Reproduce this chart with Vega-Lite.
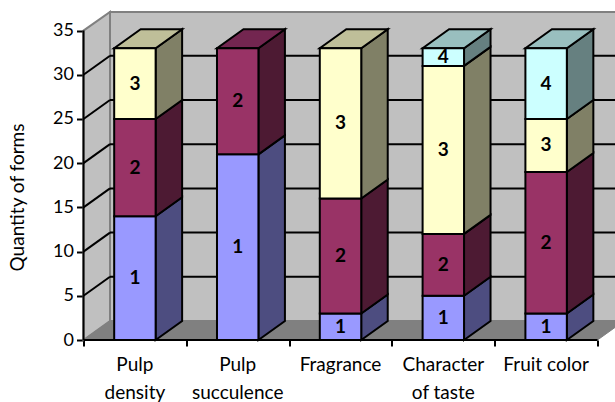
{
"$schema":"https://vega.github.io/schema/vega-lite/v6.json",
"width":531.5,"height":328,"autosize":"none",
"padding":{"left":83.5,"top":12,"right":0,"bottom":62},
"background":"white",
"config":{"view":{"stroke":null},"font":"Lato"},
"datasets":{
"segments":[
{"form":"Pulp density","pos":0.5,"series":1,"from":0,"to":14},
{"form":"Pulp density","pos":0.5,"series":2,"from":14,"to":25},
{"form":"Pulp density","pos":0.5,"series":3,"from":25,"to":33},
{"form":"Pulp succulence","pos":1.5,"series":1,"from":0,"to":21},
{"form":"Pulp succulence","pos":1.5,"series":2,"from":21,"to":33},
{"form":"Fragrance","pos":2.5,"series":1,"from":0,"to":3},
{"form":"Fragrance","pos":2.5,"series":2,"from":3,"to":16},
{"form":"Fragrance","pos":2.5,"series":3,"from":16,"to":33},
{"form":"Character of taste","pos":3.5,"series":1,"from":0,"to":5},
{"form":"Character of taste","pos":3.5,"series":2,"from":5,"to":12},
{"form":"Character of taste","pos":3.5,"series":3,"from":12,"to":31},
{"form":"Character of taste","pos":3.5,"series":4,"from":31,"to":33},
{"form":"Fruit color","pos":4.5,"series":1,"from":0,"to":3},
{"form":"Fruit color","pos":4.5,"series":2,"from":3,"to":19},
{"form":"Fruit color","pos":4.5,"series":3,"from":19,"to":25},
{"form":"Fruit color","pos":4.5,"series":4,"from":25,"to":33}
],
"grid":[{"v":5,"back":7.15},{"v":10,"back":12.15},{"v":15,"back":17.15},{"v":20,"back":22.15},{"v":25,"back":27.15},{"v":30,"back":32.15}],
"names":[
{"pos":0.5,"name":"Pulp\ndensity"},
{"pos":1.5,"name":"Pulp\nsucculence"},
{"pos":2.5,"name":"Fragrance"},
{"pos":3.5,"name":"Character\nof taste"},
{"pos":4.5,"name":"Fruit color"}
]
},
"resolve":{"scale":{"fill":"independent"}},
"layer":[
{
"description":"left side wall of the 3D box, carries the axes",
"data":{"values":[{"x":0,"lo":0,"hi":35},{"x":0.2578,"lo":2.15,"hi":37.1}]},
"mark":{"type":"area","orient":"vertical","fill":"#c0c0c0","stroke":"#808080","strokeWidth":2},
"encoding":{
"x":{"field":"x","type":"quantitative","scale":{"domain":[0,5.17],"nice":false},"title":null,
"axis":{"values":[0,1,2,3,4,5],"labels":false,"domain":false,"grid":false,"tickSize":6,"tickWidth":2,"tickColor":"black"}},
"y":{"field":"lo","type":"quantitative","stack":null,"scale":{"domain":[0,37.1],"nice":false},"title":"Quantity of forms",
"axis":{"values":[0,5,10,15,20,25,30,35],"domain":false,"grid":false,"tickSize":7,"tickWidth":2,"tickColor":"black","labelFontSize":18,"labelColor":"black","labelPadding":3,"titleFontSize":19,"titleFontWeight":"normal","titleColor":"black","titleX":-56,"titleY":185}},
"y2":{"field":"hi"}
}
},
{
"description":"back wall",
"data":{"values":[{"x":0.2578,"lo":2.15,"hi":37.1},{"x":5.2578,"lo":2.15,"hi":37.1}]},
"mark":{"type":"area","orient":"vertical","fill":"#c0c0c0","stroke":"#808080","strokeWidth":2},
"encoding":{
"x":{"field":"x","type":"quantitative","scale":{"domain":[0,5.17],"nice":false}},
"y":{"field":"lo","type":"quantitative","stack":null,"scale":{"domain":[0,37.1],"nice":false}},
"y2":{"field":"hi"}
}
},
{
"description":"floor",
"data":{"values":[{"x":0,"lo":0,"hi":0},{"x":0.2578,"lo":0,"hi":2.15},{"x":5,"lo":0,"hi":2.15},{"x":5.2578,"lo":2.15,"hi":2.15}]},
"mark":{"type":"area","orient":"vertical","fill":"#808080","stroke":"#808080","strokeWidth":1},
"encoding":{
"x":{"field":"x","type":"quantitative","scale":{"domain":[0,5.17],"nice":false}},
"y":{"field":"lo","type":"quantitative","stack":null,"scale":{"domain":[0,37.1],"nice":false}},
"y2":{"field":"hi"}
}
},
{
"description":"gridlines on the back wall",
"data":{"name":"grid"},
"mark":{"type":"rule","color":"black","strokeWidth":2},
"encoding":{
"x":{"datum":0.2578,"type":"quantitative","scale":{"domain":[0,5.17],"nice":false}},
"x2":{"datum":5.2578},
"y":{"field":"back","type":"quantitative","scale":{"domain":[0,37.1],"nice":false}}
}
},
{
"description":"gridlines running across the side wall",
"data":{"name":"grid"},
"mark":{"type":"rule","color":"black","strokeWidth":2},
"encoding":{
"x":{"datum":0,"type":"quantitative","scale":{"domain":[0,5.17],"nice":false}},
"x2":{"datum":0.2578},
"y":{"field":"v","type":"quantitative","scale":{"domain":[0,37.1],"nice":false}},
"y2":{"field":"back"}
}
},
{
"description":"value axis line",
"data":{"values":[{"lo":0,"hi":35}]},
"mark":{"type":"rule","color":"black","strokeWidth":2},
"encoding":{
"x":{"datum":0,"type":"quantitative","scale":{"domain":[0,5.17],"nice":false}},
"y":{"field":"lo","type":"quantitative","scale":{"domain":[0,37.1],"nice":false}},
"y2":{"field":"hi"}
}
},
{
"description":"right-hand faces of the stacked columns",
"data":{"name":"segments"},
"transform":[
{"calculate":"[0,1]","as":"k"},{"flatten":["k"]},
{"calculate":"datum.pos+0.2015+datum.k*0.2578","as":"sx"},
{"calculate":"datum.from+datum.k*2.15","as":"sy"},
{"calculate":"datum.to+datum.k*2.15","as":"sy2"}
],
"mark":{"type":"area","orient":"vertical","stroke":"black","strokeWidth":2,"strokeJoin":"miter"},
"encoding":{
"x":{"field":"sx","type":"quantitative","scale":{"domain":[0,5.17],"nice":false}},
"y":{"field":"sy","type":"quantitative","stack":null,"scale":{"domain":[0,37.1],"nice":false}},
"y2":{"field":"sy2"},
"detail":{"field":"form"},
"fill":{"field":"series","type":"nominal","legend":null,"scale":{"domain":[1,2,3,4],"range":["#4d4d80","#4d1a33","#808066","#668080"]}}
}
},
{
"description":"top faces of the stacked columns",
"data":{"name":"segments"},
"transform":[
{"filter":"datum.to==33"},
{"calculate":"[0,1,2,3]","as":"k"},{"flatten":["k"]},
{"calculate":"datum.pos-0.2015+[0,0.2578,0.403,0.6608][datum.k]","as":"tx"},
{"calculate":"datum.to+[0,0,0,2.15][datum.k]","as":"ty"},
{"calculate":"datum.to+[0,2.15,2.15,2.15][datum.k]","as":"ty2"}
],
"mark":{"type":"area","orient":"vertical","stroke":"black","strokeWidth":2,"strokeJoin":"miter"},
"encoding":{
"x":{"field":"tx","type":"quantitative","scale":{"domain":[0,5.17],"nice":false}},
"y":{"field":"ty","type":"quantitative","stack":null,"scale":{"domain":[0,37.1],"nice":false}},
"y2":{"field":"ty2"},
"detail":{"field":"form"},
"fill":{"field":"series","type":"nominal","legend":null,"scale":{"domain":[1,2,3,4],"range":["#73738f","#732650","#bfbf99","#99bfbf"]}}
}
},
{
"description":"front faces of the stacked columns",
"data":{"name":"segments"},
"transform":[
{"calculate":"datum.pos-0.2015","as":"left"},
{"calculate":"datum.pos+0.2015","as":"right"}
],
"mark":{"type":"rect","stroke":"black","strokeWidth":2},
"encoding":{
"x":{"field":"left","type":"quantitative","scale":{"domain":[0,5.17],"nice":false}},
"x2":{"field":"right"},
"y":{"field":"from","type":"quantitative","scale":{"domain":[0,37.1],"nice":false}},
"y2":{"field":"to"},
"fill":{"field":"series","type":"nominal","legend":null,"scale":{"domain":[1,2,3,4],"range":["#9999ff","#993366","#ffffcc","#ccffff"]}}
}
},
{
"description":"category axis line",
"data":{"values":[{"lo":0,"hi":5}]},
"mark":{"type":"rule","color":"black","strokeWidth":2},
"encoding":{
"x":{"field":"lo","type":"quantitative","scale":{"domain":[0,5.17],"nice":false}},
"x2":{"field":"hi"},
"y":{"datum":0,"type":"quantitative","scale":{"domain":[0,37.1],"nice":false}}
}
},
{
"description":"series number printed on each segment",
"data":{"name":"segments"},
"transform":[{"calculate":"(datum.from+datum.to)/2","as":"mid"}],
"mark":{"type":"text","font":"Lato","fontSize":19,"fontWeight":"bold","color":"black","baseline":"middle","align":"center"},
"encoding":{
"x":{"field":"pos","type":"quantitative","scale":{"domain":[0,5.17],"nice":false}},
"y":{"field":"mid","type":"quantitative","scale":{"domain":[0,37.1],"nice":false}},
"text":{"field":"series","type":"nominal"}
}
},
{
"description":"category names under the axis",
"data":{"name":"names"},
"mark":{"type":"text","font":"Lato","fontSize":19,"color":"black","align":"center","baseline":"alphabetic","lineBreak":"\n","lineHeight":28},
"encoding":{
"x":{"field":"pos","type":"quantitative","scale":{"domain":[0,5.17],"nice":false}},
"y":{"datum":-3.5,"type":"quantitative","scale":{"domain":[0,37.1],"nice":false}},
"text":{"field":"name","type":"nominal"}
}
}
]
}
